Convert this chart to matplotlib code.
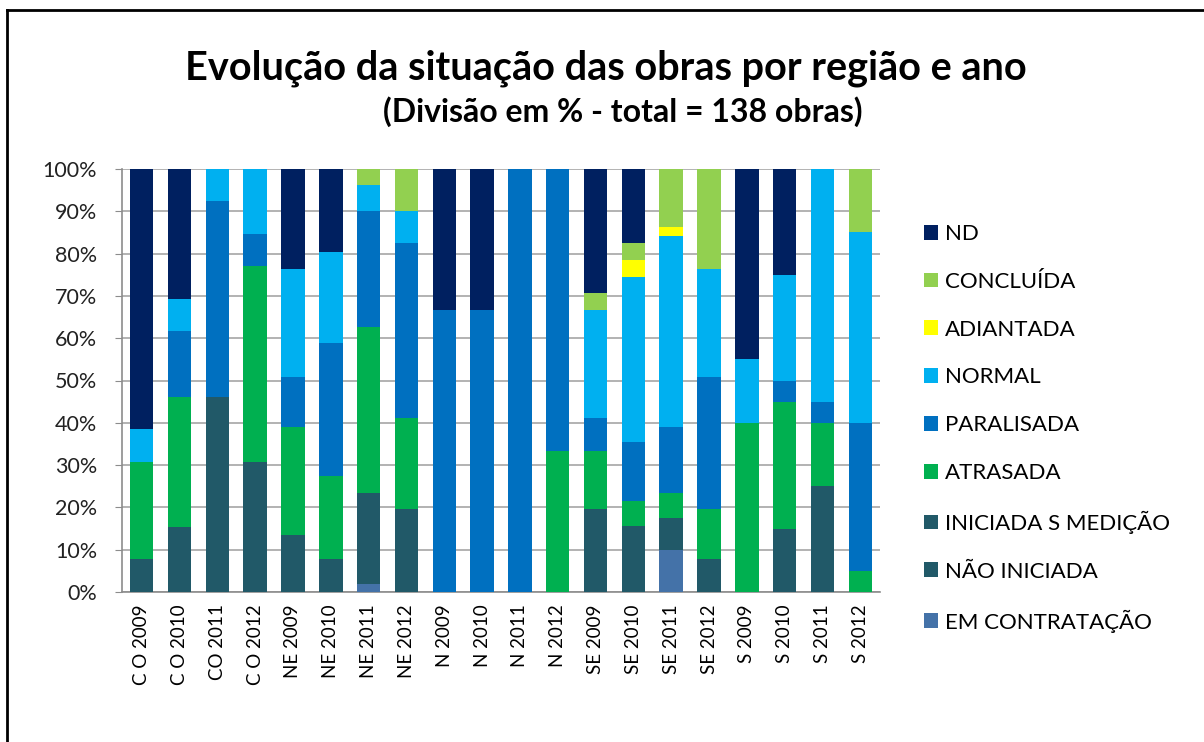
import numpy as np
import matplotlib.pyplot as plt
from matplotlib.patches import Patch
from matplotlib.lines import Line2D

plt.rcParams['font.family'] = ['Lato', 'DejaVu Sans']

# categories (region + year)
labels = ['C O 2009', 'C O 2010', 'CO 2011', 'C O 2012',
          'NE 2009', 'NE 2010', 'NE 2011', 'NE 2012',
          'N 2009', 'N 2010', 'N 2011', 'N 2012',
          'SE 2009', 'SE 2010', 'SE 2011', 'SE 2012',
          'S 2009', 'S 2010', 'S 2011', 'S 2012']

# share of works (%) per status, bottom to top
em_contratacao = [0, 0, 0, 0, 0, 0, 2.0, 0, 0, 0, 0, 0, 0, 0, 9.9, 0, 0, 0, 0, 0]
nao_iniciada = [0] * 20
iniciada_s_medicao = [7.7, 15.4, 46.2, 30.8, 13.5, 7.7, 21.5, 19.6, 0, 0, 0, 0,
                      19.6, 15.6, 7.5, 7.7, 0, 15, 25, 0]
atrasada = [23.1, 30.8, 0, 46.2, 25.5, 19.7, 39.2, 21.6, 0, 0, 0, 33.3,
            13.7, 5.9, 6.1, 11.9, 40, 30, 15, 5]
paralisada = [0, 15.4, 46.2, 7.6, 11.9, 31.4, 27.4, 41.3, 66.7, 66.7, 100, 66.7,
              7.9, 13.9, 15.5, 31.3, 0, 5, 5, 35]
normal = [7.7, 7.7, 7.6, 15.4, 25.5, 21.5, 6.0, 7.6, 0, 0, 0, 0,
          25.4, 39.1, 45.2, 25.5, 15, 25, 55, 45]
adiantada = [0, 0, 0, 0, 0, 0, 0, 0, 0, 0, 0, 0, 0, 4.0, 2.2, 0, 0, 0, 0, 0]
concluida = [0, 0, 0, 0, 0, 0, 3.9, 9.9, 0, 0, 0, 0, 4.0, 3.9, 13.6, 23.6, 0, 0, 0, 15]
nd = [61.5, 30.7, 0, 0, 23.6, 19.7, 0, 0, 33.3, 33.3, 0, 0, 29.4, 17.6, 0, 0, 45, 25, 0, 0]

series = [
    ('EM CONTRATAÇÃO', em_contratacao, '#4472a8'),
    ('NÃO INICIADA', nao_iniciada, '#215968'),
    ('INICIADA S MEDIÇÃO', iniciada_s_medicao, '#215968'),
    ('ATRASADA', atrasada, '#00b050'),
    ('PARALISADA', paralisada, '#0070c0'),
    ('NORMAL', normal, '#00b0f0'),
    ('ADIANTADA', adiantada, '#ffff00'),
    ('CONCLUÍDA', concluida, '#92d050'),
    ('ND', nd, '#002060'),
]

fig = plt.figure(figsize=(12.04, 7.42), dpi=100)
ax = fig.add_axes([122 / 1204, 1 - 592 / 742, (880 - 122) / 1204, (592 - 169) / 742])

x = np.arange(len(labels))
bottom = np.zeros(len(labels))
for name, vals, col in series:
    vals = np.array(vals, dtype=float)
    ax.bar(x, vals, 0.62, bottom=bottom, color=col, zorder=3)
    bottom += vals

ax.set_xlim(-0.52, len(labels) - 0.48)
ax.set_ylim(0, 100)
ax.set_yticks(np.arange(0, 101, 10))
ax.set_yticklabels([f'{v}%' for v in range(0, 101, 10)], fontsize=15.5, color='#222222')
ax.set_xticks(x)
ax.set_xticklabels(labels, rotation=90, fontsize=13.5)
ax.tick_params(axis='x', length=0, pad=9)
ax.tick_params(axis='y', length=5, direction='out', color='#8c8c8c', pad=13)
ax.yaxis.grid(True, color='#a6a6a6', linewidth=1.2, zorder=0)
for s in ['top', 'right']:
    ax.spines[s].set_visible(False)
for s in ['left', 'bottom']:
    ax.spines[s].set_color('#8c8c8c')
    ax.spines[s].set_linewidth(1.2)

handles = [Patch(facecolor=col, label=name) for name, vals, col in series[::-1]]
fig.legend(handles=handles, loc='upper left', bbox_to_anchor=(904 / 1204, 1 - 204 / 742),
           frameon=False, fontsize=16, handlelength=0.65, handleheight=0.65,
           handletextpad=0.3, labelspacing=1.25)

fig.text(606 / 1204, 1 - 68 / 742, 'Evolução da situação das obras por região e ano',
         ha='center', va='center', fontsize=28.5, fontweight='bold')
fig.text(623 / 1204, 1 - 112 / 742, '(Divisão em % - total = 138 obras)',
         ha='center', va='center', fontsize=23, fontweight='bold')

# border
fig.add_artist(Line2D([7 / 1204, 7 / 1204], [0, 1 - 10 / 742], color='black', linewidth=2))
fig.add_artist(Line2D([7 / 1204, 1], [1 - 10 / 742, 1 - 10 / 742], color='black', linewidth=2))

fig.savefig('out.png', dpi=100)
